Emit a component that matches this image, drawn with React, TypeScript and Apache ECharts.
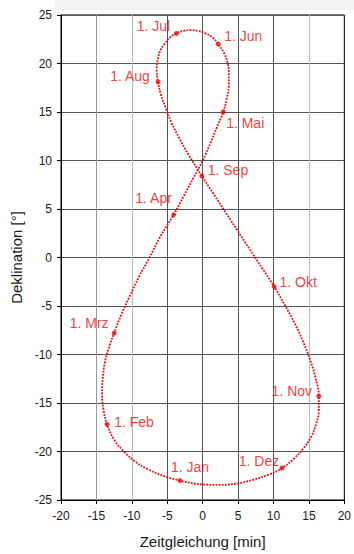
import React, { useEffect, useRef } from "react";
import * as echarts from "echarts";

// Equation of time [min] and declination [deg], roughly every 5 days through the year
const eotCurve: number[] = [
  -3.2, -5.6, -7.8, -9.6, -11.1, -12.4,
  -13.5, -14.0, -14.2, -14.1, -13.8, -13.1,
  -12.5, -11.5, -10.3, -9.0, -7.5, -6.1,
  -4.1, -2.7, -1.3, 0.0, 1.1, 2.0,
  2.9, 3.4, 3.7, 3.7, 3.5, 3.0,
  2.2, 1.4, 0.4, -0.6, -1.7, -2.7,
  -3.7, -4.6, -5.4, -6.0, -6.3, -6.5,
  -6.3, -5.9, -5.2, -4.4, -3.3, -2.0,
  -0.1, 1.5, 3.2, 4.9, 6.6, 8.4,
  10.1, 11.6, 13.0, 14.2, 15.2, 15.9,
  16.4, 16.4, 16.0, 15.3, 14.2, 12.8,
  11.2, 9.3, 7.2, 4.9, 2.4, 0.0, -2.7, -3.2,
];
const decCurve: number[] = [
  -23.0, -22.5, -21.8, -21.0, -20.0, -18.9,
  -17.2, -15.7, -14.1, -12.5, -10.8, -9.0,
  -7.8, -5.9, -4.0, -2.0, 0.0, 2.0,
  4.4, 6.3, 8.2, 10.0, 11.8, 13.4,
  15.0, 16.4, 17.7, 19.0, 20.1, 21.1,
  22.0, 22.7, 23.1, 23.35, 23.44, 23.37,
  23.1, 22.7, 22.0, 21.3, 20.5, 19.5,
  18.1, 16.8, 15.4, 13.9, 12.3, 10.6,
  8.4, 6.6, 4.7, 2.8, 0.9, -1.1,
  -3.0, -4.9, -6.8, -8.7, -10.6, -12.3,
  -14.3, -15.8, -17.2, -18.5, -19.7, -20.8,
  -21.7, -22.4, -22.9, -23.3, -23.44, -23.4, -23.1, -23.0,
];

// First day of each month
const monthLabels: string[] = [
  "1. Jan", "1. Feb", "1. Mrz", "1. Apr", "1. Mai", "1. Jun",
  "1. Jul", "1. Aug", "1. Sep", "1. Okt", "1. Nov", "1. Dez",
];
const monthEot: number[] = [-3.2, -13.5, -12.5, -4.1, 2.9, 2.2, -3.7, -6.3, -0.1, 10.1, 16.4, 11.2];
const monthDec: number[] = [-23.0, -17.2, -7.8, 4.4, 15.0, 22.0, 23.1, 18.1, 8.4, -3.0, -14.3, -21.7];
const labelOffsets: number[][] = [
  [10, -14], [27, -2], [-25, -10], [-20, -17], [22, 11], [25, -8],
  [-23, -7], [-28, -6], [26, -6], [24, -5], [-27, -5], [-23, -7],
];

const xTicks = { min: -20, max: 20, interval: 5 };
const yTicks = { min: -25, max: 25, interval: 5 };

const RED = "#ee0a0a";
const FONT = "'Liberation Sans', Arial, sans-serif";

export default function App() {
  const ref = useRef<HTMLDivElement>(null);
  useEffect(() => {
    if (!ref.current) return;
    const chart = echarts.init(ref.current, undefined, { renderer: "svg" });
    const curve = eotCurve.map((x, i) => [x, decCurve[i]]);
    const marks = monthEot.map((x, i) => ({
      value: [x, monthDec[i]],
      label: {
        show: true,
        formatter: monthLabels[i],
        position: "inside",
        offset: labelOffsets[i],
        align: "center",
        verticalAlign: "middle",
      },
    }));
    chart.setOption({
      animation: false,
      backgroundColor: "#ffffff",
      textStyle: { fontFamily: FONT },
      graphic: [
        {
          type: "rect",
          left: 55,
          top: 0,
          shape: { width: 299, height: 10 },
          style: { fill: "#f3f3f3" },
          z: -10,
        },
      ],
      grid: {
        left: 61,
        right: 5,
        top: 15,
        bottom: 50,
        show: true,
        borderColor: "#000",
        borderWidth: 1,
      },
      xAxis: {
        type: "value",
        min: xTicks.min,
        max: xTicks.max,
        interval: xTicks.interval,
        name: "Zeitgleichung [min]",
        nameLocation: "middle",
        nameGap: 34,
        nameTextStyle: { fontSize: 15, color: "#1a1a1a", fontFamily: FONT },
        axisLine: { show: true, onZero: false, lineStyle: { color: "#000", width: 1 } },
        axisTick: { show: true, inside: false, length: 4, lineStyle: { color: "#000" } },
        axisLabel: { fontSize: 12, color: "#1a1a1a", margin: 10, fontFamily: FONT },
        splitLine: {
          show: true,
          lineStyle: {
            width: 1,
            color: ["#333", "#999", "#bbb", "#555", "#555", "#555", "#555", "#bbb", "#222"],
          },
        },
      },
      yAxis: {
        type: "value",
        min: yTicks.min,
        max: yTicks.max,
        interval: yTicks.interval,
        name: "Deklination [°]",
        nameLocation: "middle",
        nameRotate: 90,
        nameGap: 33,
        nameTextStyle: { fontSize: 15, color: "#1a1a1a", fontFamily: FONT },
        axisLine: { show: true, onZero: false, lineStyle: { color: "#000", width: 1 } },
        axisTick: { show: true, inside: false, length: 4, lineStyle: { color: "#000" } },
        axisLabel: { fontSize: 12, color: "#1a1a1a", margin: 9, fontFamily: FONT },
        splitLine: { show: true, lineStyle: { width: 1, color: "#555" } },
      },
      series: [
        {
          type: "line",
          data: curve,
          smooth: 0.4,
          showSymbol: false,
          symbol: "none",
          lineStyle: { color: RED, width: 1.8, type: [1.8, 1.3] },
          z: 3,
        },
        {
          type: "scatter",
          data: marks,
          symbol: "circle",
          symbolSize: 5,
          itemStyle: { color: RED },
          label: { color: RED, fontSize: 14, fontFamily: FONT },
          z: 4,
        },
      ],
    });
    return () => chart.dispose();
  }, []);
  return (
    <div
      ref={ref}
      style={{ position: "fixed", left: 0, top: 0, width: 354, height: 554, background: "#fff" }}
    />
  );
}
